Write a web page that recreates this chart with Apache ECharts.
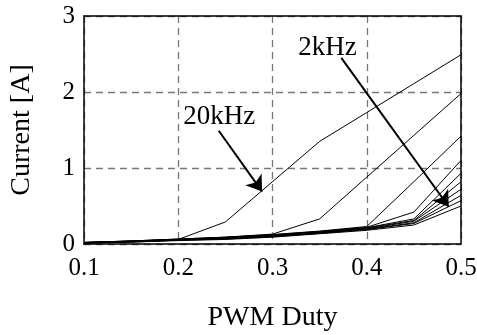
<!DOCTYPE html>
<html>
<head>
<meta charset="utf-8">
<script src="https://cdn.jsdelivr.net/npm/echarts@6/dist/echarts.min.js"></script>
<style>
html,body{margin:0;padding:0;background:#fff;}
#c{width:477px;height:335px;}
</style>
</head>
<body>
<div id="c"></div>
<script>
// PWM duty values (x)
const duty = [0.1, 0.15, 0.2, 0.25, 0.3, 0.35, 0.4, 0.45, 0.5];
// Current [A] for each switching frequency, from 20kHz (top) down to 2kHz (bottom)
const cur20k = [0.02, 0.04, 0.06, 0.29, 0.82, 1.35, 1.73, 2.11, 2.49];
const cur18k = [0.02, 0.04, 0.065, 0.09, 0.13, 0.33, 0.88, 1.43, 1.98];
const cur16k = [0.02, 0.04, 0.065, 0.09, 0.125, 0.17, 0.23, 0.82, 1.42];
const cur14k = [0.02, 0.035, 0.06, 0.085, 0.12, 0.165, 0.22, 0.42, 1.10];
const cur12k = [0.02, 0.035, 0.06, 0.085, 0.115, 0.16, 0.215, 0.33, 0.93];
const cur10k = [0.015, 0.035, 0.055, 0.08, 0.11, 0.155, 0.21, 0.31, 0.82];
const cur8k  = [0.015, 0.03, 0.055, 0.075, 0.105, 0.15, 0.20, 0.30, 0.72];
const cur6k  = [0.015, 0.03, 0.05, 0.07, 0.10, 0.145, 0.195, 0.28, 0.64];
const cur4k  = [0.01, 0.025, 0.05, 0.065, 0.095, 0.14, 0.19, 0.27, 0.57];
const cur2k  = [0.01, 0.025, 0.045, 0.06, 0.09, 0.135, 0.18, 0.25, 0.50];
const allSeries = [cur20k, cur18k, cur16k, cur14k, cur12k, cur10k, cur8k, cur6k, cur4k, cur2k];
// axis ticks
const xTicks = [0.1, 0.2, 0.3, 0.4, 0.5];
const yTicks = [0, 1, 2, 3];
// annotations (data coordinates)
const label20k = {text: '20kHz', at: [0.2434, 1.667]};
const label2k = {text: '2kHz', at: [0.3584, 2.575]};
const arrow20k = [[0.243, 1.49], [0.289, 0.69]];
const arrow2k = [[0.373, 2.45], [0.487, 0.49]];

const FONT = '"Liberation Serif", "Times New Roman", serif';
const chart = echarts.init(document.getElementById('c'), null, {renderer: 'canvas'});

const series = allSeries.map((vals, i) => ({
  type: 'line',
  data: duty.map((d, j) => [d, vals[j]]),
  symbol: 'none',
  lineStyle: {color: '#000', width: 1},
  silent: true,
  z: 3
}));

series.push({
  type: 'line',
  data: [],
  symbol: 'none',
  silent: true,
  markLine: {
    silent: true,
    symbol: ['none', 'arrow'],
    symbolSize: 15,
    label: {show: false},
    itemStyle: {color: '#000'},
    lineStyle: {color: '#000', width: 2, type: 'solid'},
    data: [
      [{coord: arrow20k[0]}, {coord: arrow20k[1]}],
      [{coord: arrow2k[0]}, {coord: arrow2k[1]}]
    ]
  },
  markPoint: {
    silent: true,
    symbol: 'circle',
    symbolSize: 0,
    label: {show: true, position: 'inside', color: '#000', fontFamily: FONT, fontSize: 27},
    data: [
      {coord: label20k.at, value: label20k.text, label: {formatter: label20k.text}},
      {coord: label2k.at, value: label2k.text, label: {formatter: label2k.text}}
    ]
  },
  z: 6
});

chart.setOption({
  animation: false,
  backgroundColor: '#fff',
  grid: {left: 84, top: 16, right: 16, bottom: 91, show: false, containLabel: false, outerBoundsMode: 'none'},
  xAxis: [{
    type: 'value', min: xTicks[0], max: xTicks[xTicks.length - 1], interval: 0.1,
    name: 'PWM Duty', nameLocation: 'middle', nameGap: 60,
    nameTextStyle: {fontFamily: FONT, fontSize: 28, color: '#000'},
    axisLine: {show: true, lineStyle: {color: '#000', width: 1.5}},
    axisTick: {show: false},
    axisLabel: {fontFamily: FONT, fontSize: 25, color: '#000', margin: 12,
      formatter: v => v.toFixed(1)},
    splitLine: {show: true, lineStyle: {color: '#777', type: [7, 5], width: 1.3}}
  }, {
    type: 'value', position: 'top', min: xTicks[0], max: xTicks[xTicks.length - 1], interval: 0.1,
    axisLine: {show: true, onZero: false, lineStyle: {color: '#000', width: 1.5}},
    axisTick: {show: false}, axisLabel: {show: false}, splitLine: {show: false}, z: 10
  }],
  yAxis: [{
    type: 'value', min: yTicks[0], max: yTicks[yTicks.length - 1], interval: 1,
    name: 'Current [A]', nameLocation: 'middle', nameGap: 48,
    nameTextStyle: {fontFamily: FONT, fontSize: 28, color: '#000'},
    axisLine: {show: true, lineStyle: {color: '#000', width: 1.5}},
    axisTick: {show: false},
    axisLabel: {fontFamily: FONT, fontSize: 25, color: '#000', margin: 9},
    splitLine: {show: true, lineStyle: {color: '#777', type: [7, 5], width: 1.3}}
  }, {
    type: 'value', position: 'right', min: yTicks[0], max: yTicks[yTicks.length - 1], interval: 1,
    axisLine: {show: true, onZero: false, lineStyle: {color: '#000', width: 1.5}},
    axisTick: {show: false}, axisLabel: {show: false}, splitLine: {show: false}, z: 10
  }],
  series: series
});
</script>
</body>
</html>
